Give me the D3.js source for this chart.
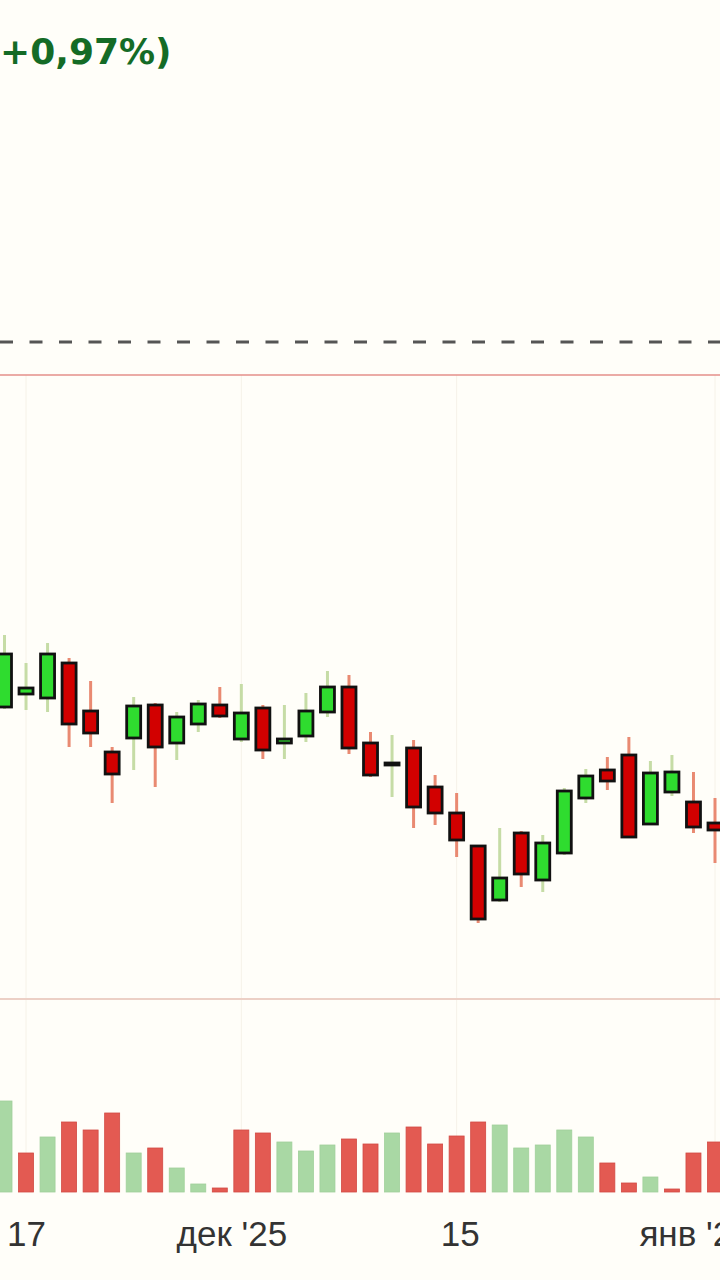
<!DOCTYPE html>
<html><head><meta charset="utf-8">
<script src="https://cdn.jsdelivr.net/npm/d3@7/dist/d3.min.js"></script>
<style>
html,body{margin:0;padding:0;background:#fffef9;}
svg{display:block;}
</style></head>
<body>
<svg id="c" width="720" height="1280"></svg>
<script>
// ---- data ----
const dates = ["2025-11-14","2025-11-17","2025-11-18","2025-11-19","2025-11-20","2025-11-21","2025-11-24","2025-11-25","2025-11-26","2025-11-27","2025-11-28","2025-12-01","2025-12-02","2025-12-03","2025-12-04","2025-12-05","2025-12-08","2025-12-09","2025-12-10","2025-12-11","2025-12-12","2025-12-15","2025-12-16","2025-12-17","2025-12-18","2025-12-19","2025-12-22","2025-12-23","2025-12-24","2025-12-25","2025-12-26","2025-12-29","2025-12-30","2026-01-05"];
const open  = [279.2,280.5,280.1,283.6,278.8,274.7,276.1,279.4,275.6,277.5,279.4,276.0,279.1,275.6,276.3,278.7,281.2,275.6,273.4,275.1,271.2,268.6,265.3,259.9,266.6,261.9,264.6,270.1,272.9,274.4,267.5,270.7,269.7,267.6];
const high  = [286.4,283.6,285.6,284.1,281.8,275.2,280.2,279.6,278.7,279.9,281.2,281.5,279.4,279.4,280.6,282.8,282.4,276.7,276.4,275.9,272.4,270.6,265.4,267.1,266.8,266.4,271.1,273.0,274.2,276.2,273.8,274.4,272.7,270.1];
const low   = [279.0,278.9,278.7,275.2,275.2,269.6,272.9,271.2,273.9,276.7,278.1,275.7,274.0,274.0,275.7,278.2,274.5,272.2,270.2,267.1,267.4,264.2,257.6,259.7,261.2,260.7,264.4,269.6,270.9,266.1,267.4,270.3,266.6,263.6];
const close = [284.5,281.1,284.5,277.5,276.6,272.5,279.3,275.2,278.2,279.5,278.3,278.6,274.9,276.0,278.8,281.2,275.1,272.4,273.6,269.2,268.6,265.9,258.0,262.1,262.5,265.6,270.8,272.3,271.8,266.2,272.6,272.7,267.2,266.9];
const volume = [9.1,3.9,5.5,7.0,6.2,7.9,3.9,4.4,2.4,0.8,0.4,6.2,5.9,5.0,4.1,4.7,5.3,4.8,5.9,6.5,4.8,5.6,7.0,6.7,4.4,4.7,6.2,5.5,2.9,0.9,1.5,0.3,3.9,5.0];
const volumeUp = [1,0,1,0,0,0,1,0,1,1,0,0,0,1,1,1,0,0,1,0,0,0,0,1,1,1,1,1,0,0,1,0,0,0];
const tickDates  = ["2025-11-17","2025-12-01","2025-12-15","2026-01-05"];
const tickLabels = ["17","дек '25","15","янв '26"];
const refPrice = 315.7;      // dashed reference level
const changeText = "+0,97%)";

// ---- layout ----
const svg = d3.select("#c");
const W = 720;
const priceTop = 375, priceBottom = 999;
const volBottom = 1192;

const x = d3.scalePoint().domain(dates).range([4.5, 715]);
const y = d3.scaleLinear().domain([250, 312.4]).range([priceBottom, priceTop]);
const yv = d3.scaleLinear().domain([0, 19]).range([volBottom, volBottom - 190]);

const rows = dates.map((d,i)=>({d, o:open[i], h:high[i], l:low[i], c:close[i], v:volume[i], vu:volumeUp[i]}));

// faint vertical grid
svg.append("g").selectAll("line").data(tickDates).join("line")
  .attr("x1", d=>x(d)).attr("x2", d=>x(d))
  .attr("y1", priceTop).attr("y2", volBottom)
  .attr("stroke", "#f6f2e8").attr("stroke-width", 1);

// header text
svg.append("text").attr("x", 0).attr("y", 64)
  .attr("font-family", "DejaVu Sans, Verdana, sans-serif")
  .attr("font-weight", "bold").attr("font-size", 36)
  .attr("fill", "#146b26").text(changeText);

// dashed reference line
svg.append("line").attr("x1", 0).attr("x2", W)
  .attr("y1", y(refPrice)).attr("y2", y(refPrice))
  .attr("stroke", "#555").attr("stroke-width", 3)
  .attr("stroke-dasharray", "13,16.5");

// pane borders
svg.append("line").attr("x1",0).attr("x2",W).attr("y1",priceTop).attr("y2",priceTop)
  .attr("stroke","#e58f8a").attr("stroke-width",1.5);
svg.append("line").attr("x1",0).attr("x2",W).attr("y1",priceBottom).attr("y2",priceBottom)
  .attr("stroke","#ecd0c6").attr("stroke-width",2);

// volume bars
svg.append("g").selectAll("rect").data(rows).join("rect")
  .attr("x", r=>x(r.d)-7.5).attr("width", 15)
  .attr("y", r=>yv(r.v)).attr("height", r=>volBottom - yv(r.v))
  .attr("fill", r=>r.vu ? "#a9d8a4" : "#e35a52")
  .attr("stroke", r=>r.vu ? "#a0d09b" : "#d24a44").attr("stroke-width", 0.8);

// candles
const cg = svg.append("g");
cg.selectAll("line").data(rows).join("line")
  .attr("x1", r=>x(r.d)).attr("x2", r=>x(r.d))
  .attr("y1", r=>y(r.h)).attr("y2", r=>y(r.l))
  .attr("stroke", r=>r.c>=r.o ? "#c6dca6" : "#e98a72").attr("stroke-width", 3);
cg.selectAll("rect").data(rows).join("rect")
  .attr("x", r=>x(r.d)-7).attr("width", 14)
  .attr("y", r=>y(Math.max(r.o,r.c)))
  .attr("height", r=>Math.max(2, Math.abs(y(r.o)-y(r.c))))
  .attr("fill", r=>r.c>=r.o ? "#2fdc2f" : "#d20000")
  .attr("stroke", "#111").attr("stroke-width", 2.8);

// x axis
const xAxis = d3.axisBottom(x).tickValues(tickDates)
  .tickFormat(d=>tickLabels[tickDates.indexOf(d)]).tickSize(0).tickPadding(0);
const ag = svg.append("g").attr("transform", `translate(0,${1221})`).call(xAxis);
ag.select(".domain").remove();
ag.selectAll("text")
  .attr("font-family", "Liberation Sans Narrow, Arial Narrow, Liberation Sans, sans-serif")
  .attr("font-size", 35).attr("fill", "#333").attr("dy", "0.71em")
  .attr("dx", (d,i)=> [0,-10,3,-20][i]);
</script>
</body></html>
